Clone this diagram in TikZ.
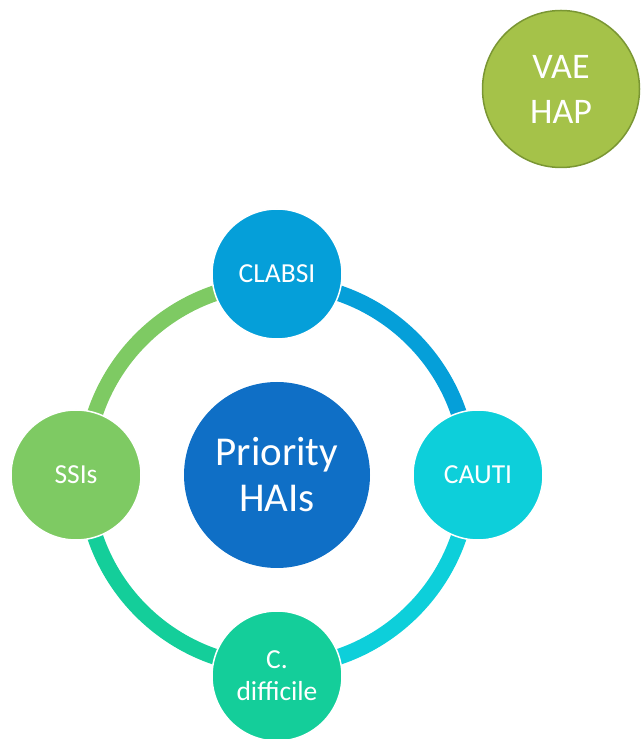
\documentclass[tikz,border=0pt]{standalone}
\usepackage{fontspec}
\setmainfont{Carlito}
\usetikzlibrary{positioning, backgrounds}
\definecolor{cblue}{HTML}{059FD9}
\definecolor{ccyan}{HTML}{0DCFDA}
\definecolor{cteal}{HTML}{14CE9A}
\definecolor{cgreen}{HTML}{7ECA63}
\definecolor{cnavy}{HTML}{0F6FC6}
\definecolor{colive}{HTML}{A5C249}
\definecolor{colivedk}{HTML}{7A9633}
\tikzset{
  every picture/.style={line width=1.2pt},
  hai/.style={circle, draw=white, line width=1.5pt, fill=#1, text=white, minimum size=130pt, inner sep=0pt, align=center, font=\fontsize{27.5}{32}\selectfont},
  hai/.default=cblue,
  big/.style={circle, fill=#1, text=white, inner sep=0pt, align=center},
  ring/.style={draw=#1, line width=16pt},
}
\begin{document}
\begin{tikzpicture}[x=1pt, y=1pt]
  \useasboundingbox (0,0) rectangle (641,739);
  \node[big=cnavy, minimum size=186pt, font=\fontsize{41}{46}\selectfont] (prio) at (277,264) {Priority\\HAIs};
  \node[hai=cblue] (clabsi) at (277,465) {CLABSI};
  \node[hai=ccyan] (cauti) at (478,264) {CAUTI};
  \node[hai=cteal] (cdiff) at (277,63) {C.\\difficile};
  \node[hai=cgreen] (ssi) at (76,264) {SSIs};
  \node[big=colive, draw=colivedk, line width=1.5pt, minimum size=157pt, font=\fontsize{36}{45}\selectfont] (vae) at (561,650) {VAE\\HAP};
  % ring behind the four circles
  \begin{scope}[on background layer]
    \foreach \s/\c in {90/cblue, 0/ccyan, -90/cteal, 180/cgreen}
      \draw[ring=\c] ([shift={(\s:192)}]prio.center) arc[start angle=\s, delta angle=-90, radius=192];
  \end{scope}
\end{tikzpicture}
\end{document}
